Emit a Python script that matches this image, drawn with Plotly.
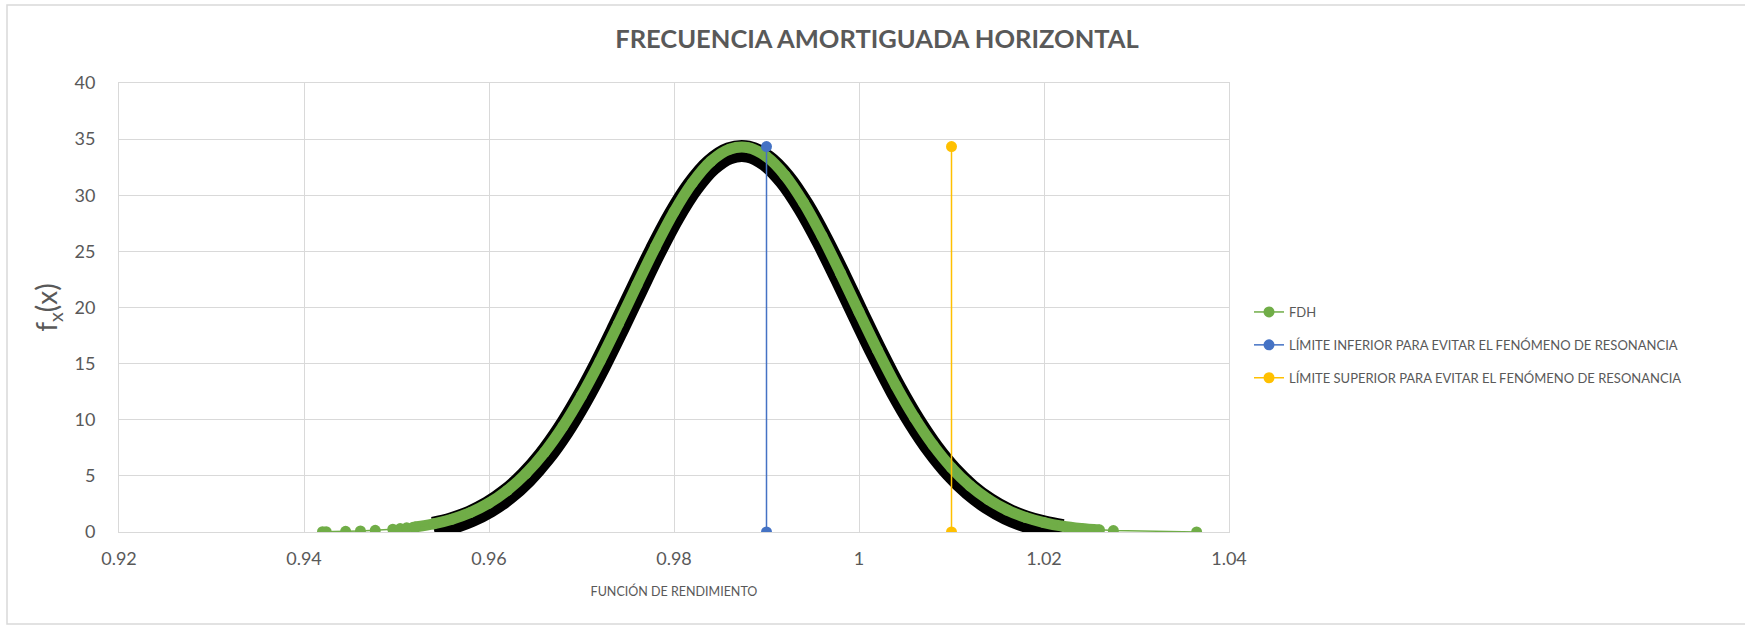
import plotly.graph_objects as go

# ---- data ----
fdh_x = [0.9420, 0.9424, 0.9445, 0.9461, 0.9477, 0.9496, 0.9504, 0.9511, 0.9518,
         0.952, 0.954, 0.956, 0.958, 0.960, 0.962, 0.964, 0.966, 0.968, 0.970,
         0.972, 0.974, 0.976, 0.978, 0.980, 0.982, 0.984, 0.986, 0.988, 0.990,
         0.992, 0.994, 0.996, 0.998, 1.000, 1.002, 1.004, 1.006, 1.008, 1.010,
         1.012, 1.014, 1.016, 1.018, 1.020, 1.022, 1.024, 1.026,
         1.0275, 1.0365]
fdh_y = [0.03, 0.03, 0.06, 0.10, 0.15, 0.25, 0.31, 0.37, 0.43,
         0.45, 0.73, 1.14, 1.74, 2.58, 3.72, 5.21, 7.10, 9.41, 12.14,
         15.22, 18.56, 22.01, 25.40, 28.51, 31.11, 33.03, 34.10, 34.24, 33.44,
         31.77, 29.35, 26.37, 23.05, 19.59, 16.20, 13.02, 10.19, 7.75, 5.73,
         4.12, 2.89, 1.96, 1.30, 0.84, 0.52, 0.32, 0.19,
         0.13, 0.01]
dense_start, dense_end = 9, 47    # contiguous densely-sampled part of FDH
shadow_start, shadow_end = 10, 45  # part of FDH carrying the dark shadow

lim_inf_x = [0.99, 0.99]
lim_inf_y = [0.0, 34.34]
lim_sup_x = [1.01, 1.01]
lim_sup_y = [0.0, 34.34]

x_tickvals = [0.92, 0.94, 0.96, 0.98, 1.00, 1.02, 1.04]
x_ticktext = ["0.92", "0.94", "0.96", "0.98", "1", "1.02", "1.04"]
y_tickvals = [0, 5, 10, 15, 20, 25, 30, 35, 40]
y_range = [0, 40]

names = ["FDH",
         "LÍMITE INFERIOR PARA EVITAR EL FENÓMENO DE RESONANCIA",
         "LÍMITE SUPERIOR PARA EVITAR EL FENÓMENO DE RESONANCIA"]

GREEN = "#70AD47"
BLUE = "#4472C4"
GOLD = "#FFC000"
GREY = "#595959"
GRID = "#D9D9D9"
FONT = "Lato"

# ---- geometry (page pixels; body margin removed by post_script) ----
W, H = 1745, 628
PLOT_L, PLOT_R, PLOT_T, PLOT_B = 119, 1229, 83, 532
ML, MT = PLOT_L, PLOT_T
MR, MB = W - PLOT_R, H - PLOT_B
PH = H - MT - MB
PW = W - ML - MR
SHADOW_PX = 4
shift = SHADOW_PX * (y_range[1] - y_range[0]) / PH   # shadow axis range offset


def px_to_paper_x(px):
    return (px - ML) / PW


def py_to_paper_y(py):
    return (H - MB - py) / PH


dx = fdh_x[dense_start:dense_end]
dy = fdh_y[dense_start:dense_end]
sx = fdh_x[shadow_start:shadow_end]
sy = fdh_y[shadow_start:shadow_end]

fig = go.Figure()

# shadow: main y axis, its range shifted so the band renders a few px lower
fig.add_trace(go.Scatter(x=sx, y=sy, xaxis="x", yaxis="y", mode="lines",
                         line=dict(color="#000000", width=22, shape="spline"),
                         showlegend=False, hoverinfo="skip"))
# green band + series on the visible overlay axis y2
fig.add_trace(go.Scatter(x=dx, y=dy, xaxis="x", yaxis="y2", mode="lines",
                         line=dict(color=GREEN, width=11, shape="spline"),
                         showlegend=False, hoverinfo="skip"))
fig.add_trace(go.Scatter(x=fdh_x, y=fdh_y, xaxis="x", yaxis="y2", mode="lines+markers",
                         name=names[0], legendgroup="a",
                         line=dict(color=GREEN, width=1.5),
                         marker=dict(color=GREEN, size=11)))
fig.add_trace(go.Scatter(x=lim_inf_x, y=lim_inf_y, xaxis="x", yaxis="y2", mode="lines+markers",
                         name=names[1], legendgroup="b",
                         line=dict(color=BLUE, width=1.5),
                         marker=dict(color=BLUE, size=11)))
fig.add_trace(go.Scatter(x=lim_sup_x, y=lim_sup_y, xaxis="x", yaxis="y2", mode="lines+markers",
                         name=names[2], legendgroup="c",
                         line=dict(color=GOLD, width=1.5),
                         marker=dict(color=GOLD, size=11)))

# chart-area border
fig.add_shape(type="rect", xref="paper", yref="paper",
              x0=px_to_paper_x(7), x1=px_to_paper_x(1760),
              y0=py_to_paper_y(624), y1=py_to_paper_y(5),
              line=dict(color=GRID, width=1.5), fillcolor="rgba(0,0,0,0)", layer="below")

fig.update_layout(
    width=W, height=H,
    margin=dict(l=ML, r=MR, t=MT, b=MB),
    paper_bgcolor="white", plot_bgcolor="white",
    font=dict(family=FONT, color=GREY),
    hovermode=False,
    title=dict(text="<b>FRECUENCIA AMORTIGUADA HORIZONTAL</b>",
               x=877 / W, xref="container", xanchor="center",
               y=1 - 39 / H, yref="container", yanchor="middle",
               font=dict(family=FONT, size=25.5, color=GREY)),
    xaxis=dict(range=[0.92, 1.04], tickvals=x_tickvals, ticktext=x_ticktext,
               showgrid=True, gridcolor=GRID, gridwidth=1, zeroline=False,
               showline=True, linecolor=GRID, linewidth=1, mirror=True,
               ticks="", ticklabelstandoff=10,
               tickfont=dict(family=FONT, size=18, color=GREY),
               anchor="y",
               title=dict(text="FUNCIÓN DE RENDIMIENTO", standoff=19,
                          font=dict(family=FONT, size=12.5, color=GREY))),
    yaxis=dict(range=[y_range[0] + shift, y_range[1] + shift], anchor="x",
               showgrid=False, zeroline=False, showticklabels=False, ticks="",
               showline=False),
    yaxis2=dict(range=y_range, tickvals=y_tickvals, overlaying="y", side="left",
                showgrid=True, gridcolor=GRID, gridwidth=1, zeroline=False,
                showline=True, linecolor=GRID, linewidth=1, mirror=True,
                ticks="", ticklabelstandoff=19,
                tickfont=dict(family=FONT, size=18, color=GREY),
                anchor="x",
                title=dict(text="f<sub>x</sub>(x)", standoff=8,
                           font=dict(family=FONT, size=28, color=GREY))),
    legend=dict(x=px_to_paper_x(1249), xanchor="left",
                y=py_to_paper_y(297), yanchor="top",
                font=dict(family=FONT, size=13, color=GREY),
                tracegroupgap=13, bgcolor="rgba(0,0,0,0)"),
    showlegend=True,
)

fig.write_html("out.html", config={"displayModeBar": False},
               post_script="document.body.style.margin='0px';")
